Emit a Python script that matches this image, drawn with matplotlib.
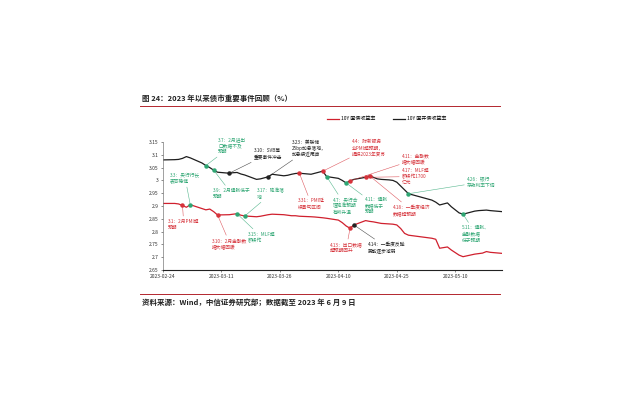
import numpy as np
import pandas as pd
import matplotlib
matplotlib.use('Agg')
import matplotlib.pyplot as plt
from matplotlib.lines import Line2D
from matplotlib.ticker import FuncFormatter

plt.rcParams['font.family'] = ['Noto Sans CJK SC', 'DejaVu Sans']

# ---- data ----
dates = ['2023-02-24', '2023-02-27', '2023-02-28', '2023-03-01', '2023-03-02', '2023-03-03',
         '2023-03-06', '2023-03-07', '2023-03-08', '2023-03-09', '2023-03-10',
         '2023-03-13', '2023-03-14', '2023-03-15', '2023-03-16', '2023-03-17',
         '2023-03-20', '2023-03-21', '2023-03-22', '2023-03-23', '2023-03-24',
         '2023-03-27', '2023-03-28', '2023-03-29', '2023-03-30', '2023-03-31',
         '2023-04-03', '2023-04-04', '2023-04-06', '2023-04-07',
         '2023-04-10', '2023-04-11', '2023-04-12', '2023-04-13', '2023-04-14',
         '2023-04-17', '2023-04-18', '2023-04-19', '2023-04-20', '2023-04-21',
         '2023-04-23', '2023-04-24', '2023-04-25', '2023-04-26', '2023-04-27', '2023-04-28',
         '2023-05-04', '2023-05-05', '2023-05-06',
         '2023-05-08', '2023-05-09', '2023-05-10', '2023-05-11', '2023-05-12',
         '2023-05-15', '2023-05-16', '2023-05-17', '2023-05-18', '2023-05-19', '2023-05-22']

gov_10y = [2.910, 2.910, 2.908, 2.902, 2.895, 2.905,
           2.890, 2.885, 2.888, 2.878, 2.865,
           2.866, 2.868, 2.870, 2.864, 2.861,
           2.858, 2.860, 2.863, 2.866, 2.868,
           2.866, 2.864, 2.862, 2.862, 2.860,
           2.858, 2.857, 2.854, 2.852,
           2.845, 2.835, 2.822, 2.813, 2.826,
           2.843, 2.840, 2.838, 2.835, 2.832,
           2.830, 2.829, 2.826, 2.812, 2.793, 2.786,
           2.774, 2.770, 2.735,
           2.740, 2.728, 2.718, 2.708, 2.702,
           2.712, 2.714, 2.716, 2.722, 2.719, 2.715]

cdb_10y = [3.080, 3.081, 3.082, 3.086, 3.093, 3.088,
           3.068, 3.058, 3.050, 3.040, 3.032,
           3.028, 3.030, 3.031, 3.025, 3.021,
           3.004, 3.006, 3.010, 3.014, 3.024,
           3.018, 3.020, 3.024, 3.027, 3.028,
           3.024, 3.028, 3.036, 3.015,
           3.008, 3.000, 2.990, 2.998, 3.004,
           3.012, 3.018, 3.012, 3.006, 3.004,
           3.002, 3.000, 2.993, 2.978, 2.963, 2.948,
           2.923, 2.915, 2.904,
           2.912, 2.897, 2.885, 2.873, 2.868,
           2.880, 2.882, 2.883, 2.884, 2.882, 2.878]

# events: date, which line, kind (up / down / neutral), text
ev_dates = ['2023-03-01', '2023-03-03', '2023-03-07', '2023-03-09', '2023-03-10',
            '2023-03-13', '2023-03-15', '2023-03-17', '2023-03-23', '2023-03-31',
            '2023-04-06', '2023-04-07', '2023-04-12', '2023-04-13', '2023-04-13',
            '2023-04-14', '2023-04-17', '2023-04-18', '2023-04-28', '2023-05-12']
ev_line = ['gov', 'gov', 'cdb', 'cdb', 'gov',
           'cdb', 'gov', 'gov', 'cdb', 'cdb',
           'cdb', 'cdb', 'cdb', 'cdb', 'gov',
           'gov', 'cdb', 'cdb', 'cdb', 'cdb']
ev_kind = ['up', 'down', 'down', 'down', 'up',
           'neutral', 'down', 'down', 'neutral', 'up',
           'up', 'down', 'down', 'up', 'up',
           'neutral', 'up', 'up', 'down', 'down']
ev_text = ['3.1：2月PMI超\n预期',
           '3.3：央行行长\n表态稳健',
           '3.7：2月进出\n口数据不及\n预期',
           '3.9：2月通胀低于\n预期',
           '3.10：2月金融数\n据大幅回暖',
           '3.10：SVB等\n重要事件冲击',
           '3.15：MLF超\n额续作',
           '3.17：降准落\n地',
           '3.23：美联储\n25bp加息落地，\n加息接近尾声',
           '3.31：PMI延\n续景气区间',
           '4.4：财新服务\n业PMI超预期，\n提振2023年复苏',
           '4.7：央行合\n理降准预期\n有所升温',
           '4.11：通胀\n数据低于\n预期',
           '4.11：金融数\n据大幅回暖',
           '4.13：出口数据\n超预期回升',
           '4.14：一季度反弹\n势能逐步减弱',
           '4.17：MLF超\n额续作1700\n亿元',
           '4.18：一季度经济\n数据超预期',
           '4.26：银行\n存款利率下调',
           '5.11：通胀、\n金融数据\n低于预期']

# label anchor (top-left of text) in axes fraction, layout only
ev_pos = [(0.015, 0.40), (0.021, 0.76), (0.162, 1.04), (0.147, 0.64), (0.145, 0.25),
          (0.268, 0.95), (0.251, 0.30), (0.277, 0.64), (0.381, 1.02), (0.398, 0.56),
          (0.558, 1.02), (0.501, 0.57), (0.596, 0.57), (0.705, 0.91), (0.493, 0.22),
          (0.605, 0.22), (0.705, 0.80), (0.678, 0.51), (0.897, 0.73), (0.882, 0.35)]

RED = '#d0202e'
BLACK = '#1e1e1e'
kind_color = {'up': '#d6333b', 'down': '#2ea673', 'neutral': '#222222'}

x = pd.to_datetime(dates)
series = {'gov': gov_10y, 'cdb': cdb_10y}

fig = plt.figure(figsize=(6.4, 4), dpi=100)
ax = fig.add_axes([163 / 640, 1 - 270 / 400, 339 / 640, 128 / 400])

ax.plot(x, gov_10y, color=RED, lw=0.9, label='10Y 国债收益率')
ax.plot(x, cdb_10y, color=BLACK, lw=0.9, label='10Y 国开债收益率')

ax.set_xlim(pd.Timestamp('2023-02-24'), pd.Timestamp('2023-05-22'))
ax.set_ylim(2.65, 3.15)
ax.set_yticks(np.linspace(2.65, 3.15, 11))
ax.yaxis.set_major_formatter(FuncFormatter(lambda v, p: f'{round(v, 2):g}'))
xt = pd.date_range('2023-02-24', periods=6, freq='15D')
ax.set_xticks(xt)
ax.set_xticklabels([d.strftime('%Y-%m-%d') for d in xt])

for s in ['top', 'right']:
    ax.spines[s].set_visible(False)
ax.spines['left'].set_color('#7a7a7a')
ax.spines['left'].set_linewidth(0.5)
ax.spines['bottom'].set_color('#222222')
ax.spines['bottom'].set_linewidth(0.8)
ax.tick_params(labelsize=3.6, length=1.5, width=0.4, pad=1.5, colors='#333333')

# event markers + labels
for d, ln, k, t, pos in zip(ev_dates, ev_line, ev_kind, ev_text, ev_pos):
    i = dates.index(d)
    xv, yv = x[i], series[ln][i]
    c = kind_color[k]
    ax.plot(xv, yv, 'o', ms=2.2, color=c, zorder=5)
    ax.annotate(t, xy=(xv, yv), xytext=pos, textcoords='axes fraction',
                fontsize=3.4, color=c, ha='left', va='top', linespacing=1.3,
                annotation_clip=False,
                arrowprops=dict(arrowstyle='-', color=c, lw=0.4, alpha=0.8,
                                shrinkA=0, shrinkB=1))

ax.legend(loc='center', bbox_to_anchor=(0.66, 1.18), ncol=2, frameon=False,
          fontsize=3.6, handlelength=2.4, columnspacing=3.5, handletextpad=0.5)

# title, rules and source
fig.text(142 / 640, 1 - 98 / 400, '图 24：2023 年以来债市重要事件回顾（%）',
         fontsize=5.4, fontweight='bold', va='center', color='#222222')
fig.add_artist(Line2D([140 / 640, 500 / 640], [1 - 106 / 400] * 2, color='#b3262e', lw=0.7))
fig.add_artist(Line2D([140 / 640, 500 / 640], [1 - 294 / 400] * 2, color='#b3262e', lw=0.7))
fig.text(142 / 640, 1 - 302 / 400, '资料来源：Wind，中信证券研究部；数据截至 2023 年 6 月 9 日',
         fontsize=5.4, fontweight='bold', va='center', color='#222222')

fig.savefig('out.png', dpi=100, facecolor='white')
